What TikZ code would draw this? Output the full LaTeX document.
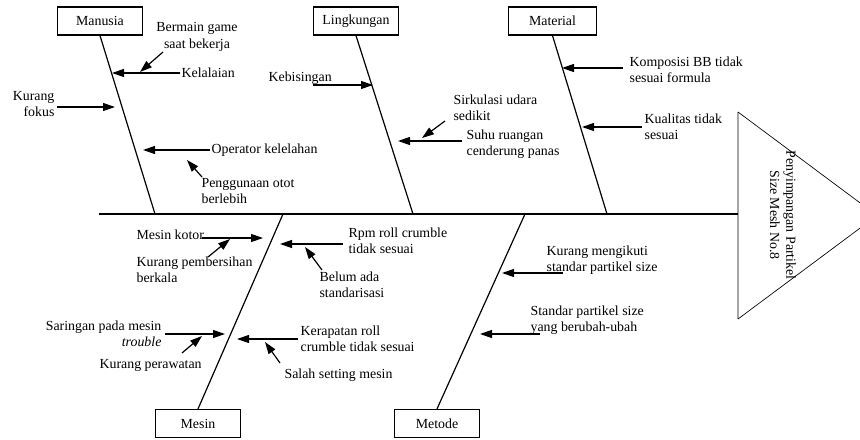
\documentclass[tikz,border=0pt]{standalone}
\usepackage{fontspec}
\setmainfont{Liberation Serif}
\usetikzlibrary{arrows.meta}

\begin{document}
\begin{tikzpicture}[x=0.75pt,y=-0.75pt,
  >={Triangle[length=9pt,width=6pt]},
  every node/.style={font=\fontsize{10.4}{12.2}\selectfont},
  catbox/.style={draw,line width=0.9pt,minimum width=64pt,minimum height=21pt,inner sep=2pt},
  lbl/.style={inner sep=1pt,align=left,anchor=west},
  bone/.style={line width=0.9pt},
  cause/.style={->,line width=0.9pt}]
  \clip (0,0) rectangle (860,439);

  % ---- Head and spine ----
  \draw[gray!70,line width=1pt] (738,112) -- (738,319);
  \draw[line width=0.5pt] (738,112) -- (877,215.5) -- (738,319);
  \node[rotate=-90,align=center,inner sep=0pt] (effect) at (783,215) {Penyimpangan Partikel\\Size Mesh No.8};
  \coordinate (tail) at (99,214);
  \coordinate (head) at (738,214);
  \draw[line width=1.6pt] (tail) -- (head);

  % ---- Categories ----
  \node[catbox] (manusia) at (100,21) {Manusia};
  \node[catbox] (lingkungan) at (356,21) {Lingkungan};
  \node[catbox,minimum width=66pt] (material) at (552.5,21) {Material};
  \node[catbox] (mesin) at (198,423.5) {Mesin};
  \node[catbox] (metode) at (437,423.5) {Metode};
  \coordinate (j-manusia) at (155,214);
  \coordinate (j-lingkungan) at (413,214);
  \coordinate (j-material) at (607,214);
  \coordinate (j-mesin) at (283,214);
  \coordinate (j-metode) at (525,214);
  \draw[bone] (manusia.south) -- (j-manusia);
  \draw[bone] (lingkungan.south) -- (j-lingkungan);
  \draw[bone] (material.south) -- (j-material);
  \draw[bone] (mesin.north) -- (j-mesin);
  \draw[bone] (metode.north) -- (j-metode);

  % ---- Manusia ----
  \node[inner sep=1pt,align=center] (bermain) at (197,37) {Bermain game\\saat bekerja};
  \node[lbl] (kelalaian) at (180,73) {Kelalaian};
  \node[inner sep=1pt,align=right,anchor=east] (fokus) at (56,104) {Kurang\\fokus};
  \node[lbl] (kelelahan) at (210,150) {Operator kelelahan};
  \node[lbl] (otot) at (200,191) {Penggunaan otot\\berlebih};
  \coordinate (kelalaian-tip) at (112,73);
  \coordinate (bermain-from) at (163,52);
  \coordinate (bermain-tip) at (140,72);
  \coordinate (fokus-from) at (57,107);
  \coordinate (fokus-tip) at (115,107);
  \coordinate (kelelahan-tip) at (143,150);
  \coordinate (otot-from) at (202,177);
  \coordinate (otot-tip) at (187,160);
  \draw[cause] (kelalaian.west) -- (kelalaian-tip);
  \draw[cause] (bermain-from) -- (bermain-tip);
  \draw[cause] (fokus-from) -- (fokus-tip);
  \draw[cause] (kelelahan.west) -- (kelelahan-tip);
  \draw[cause] (otot-from) -- (otot-tip);

  % ---- Lingkungan ----
  \node[lbl] (kebisingan) at (267,78) {Kebisingan};
  \node[lbl] (sirkulasi) at (452,108) {Sirkulasi udara\\sedikit};
  \node[lbl] (suhu) at (465,144) {Suhu ruangan\\cenderung panas};
  \coordinate (kebisingan-from) at (313,85);
  \coordinate (kebisingan-tip) at (373,85);
  \coordinate (sirkulasi-from) at (445,121);
  \coordinate (sirkulasi-tip) at (422,138);
  \coordinate (suhu-from) at (462,141);
  \coordinate (suhu-tip) at (398,141);
  \draw[cause] (kebisingan-from) -- (kebisingan-tip);
  \draw[cause] (sirkulasi-from) -- (sirkulasi-tip);
  \draw[cause] (suhu-from) -- (suhu-tip);

  % ---- Material ----
  \node[lbl] (komposisi) at (628,70) {Komposisi BB tidak\\sesuai formula};
  \node[lbl] (kualitas) at (643,127) {Kualitas tidak\\sesuai};
  \coordinate (komposisi-from) at (623,68);
  \coordinate (komposisi-tip) at (562,68);
  \coordinate (kualitas-from) at (642,127);
  \coordinate (kualitas-tip) at (582,127);
  \draw[cause] (komposisi-from) -- (komposisi-tip);
  \draw[cause] (kualitas-from) -- (kualitas-tip);

  % ---- Mesin ----
  \node[lbl] (kotor) at (135,235) {Mesin kotor};
  \node[lbl] (pembersihan) at (135,270) {Kurang pembersihan\\berkala};
  \node[inner sep=1pt,align=right,anchor=east] (saringan) at (163,334) {Saringan pada mesin\\\textit{trouble}};
  \node[lbl] (perawatan) at (98,365) {Kurang perawatan};
  \node[lbl] (rpm) at (347,241) {Rpm roll crumble\\tidak sesuai};
  \node[lbl] (belum) at (318,285) {Belum ada\\standarisasi};
  \node[lbl] (kerapatan) at (299,339) {Kerapatan roll\\crumble tidak sesuai};
  \node[lbl] (salah) at (283,375) {Salah setting mesin};
  \coordinate (kotor-from) at (202,238);
  \coordinate (kotor-tip) at (263,238);
  \coordinate (pembersihan-from) at (208,257);
  \coordinate (pembersihan-tip) at (230,239);
  \coordinate (saringan-from) at (165,334);
  \coordinate (saringan-tip) at (225,334);
  \coordinate (perawatan-from) at (182,353);
  \coordinate (perawatan-tip) at (202,336);
  \coordinate (rpm-from) at (343,244);
  \coordinate (rpm-tip) at (280,244);
  \coordinate (belum-from) at (322,270);
  \coordinate (belum-tip) at (305,247);
  \coordinate (kerapatan-from) at (298,339);
  \coordinate (kerapatan-tip) at (237,339);
  \coordinate (salah-from) at (280,363);
  \coordinate (salah-tip) at (265,342);
  \draw[cause] (kotor-from) -- (kotor-tip);
  \draw[cause] (pembersihan-from) -- (pembersihan-tip);
  \draw[cause] (saringan-from) -- (saringan-tip);
  \draw[cause] (perawatan-from) -- (perawatan-tip);
  \draw[cause] (rpm-from) -- (rpm-tip);
  \draw[cause] (belum-from) -- (belum-tip);
  \draw[cause] (kerapatan-from) -- (kerapatan-tip);
  \draw[cause] (salah-from) -- (salah-tip);

  % ---- Metode ----
  \node[lbl] (mengikuti) at (545,260) {Kurang mengikuti\\standar partikel size};
  \node[lbl] (berubah) at (529,320) {Standar partikel size\\yang berubah-ubah};
  \coordinate (mengikuti-from) at (563,273);
  \coordinate (mengikuti-tip) at (502,273);
  \coordinate (berubah-from) at (540,334);
  \coordinate (berubah-tip) at (480,334);
  \draw[cause] (mengikuti-from) -- (mengikuti-tip);
  \draw[cause] (berubah-from) -- (berubah-tip);
\end{tikzpicture}
\end{document}
